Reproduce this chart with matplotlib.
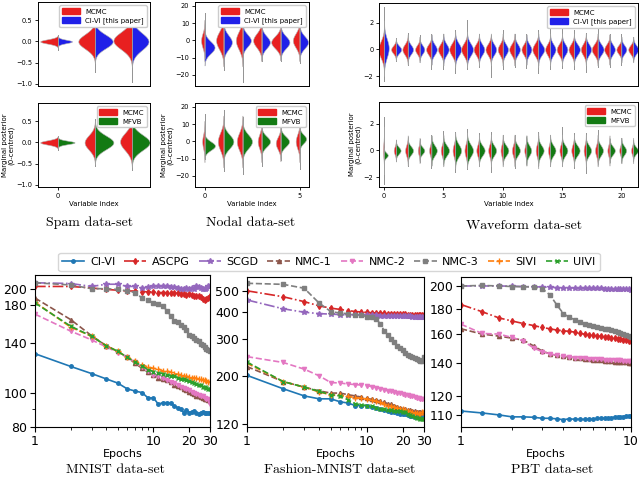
import numpy as np
import matplotlib
matplotlib.use("Agg")
import matplotlib.pyplot as plt
from matplotlib.patches import Patch
from matplotlib.ticker import NullFormatter, FixedLocator, FixedFormatter

# ---------------- violin data (centre, spread, half-width, whisker range) ----------------
spam_idx = [0, 1, 2]
spam_mcmc_c = [0.0, 0.0, 0.02]
spam_mcmc_s = [0.05, 0.17, 0.2]
spam_top_mcmc_w = [0.48, 0.45, 0.5]
spam_civi_c = [0.0, 0.0, 0.0]
spam_civi_s = [0.04, 0.16, 0.2]
spam_civi_w = [0.38, 0.48, 0.45]
spam_top_lo = [-0.2, -0.72, -0.95]
spam_top_hi = [0.15, 0.55, 0.85]
spam_bot_mcmc_w = [0.48, 0.28, 0.32]
spam_mfvb_c = [0.0, 0.0, 0.0]
spam_mfvb_s = [0.04, 0.16, 0.18]
spam_mfvb_w = [0.45, 0.5, 0.48]
spam_bot_lo = [-0.18, -0.55, -0.65]
spam_bot_hi = [0.15, 0.55, 0.45]

nodal_idx = [0, 1, 2, 3, 4, 5]
nodal_mcmc_c = [0, 0, 0, 0, -1, 0]
nodal_mcmc_s = [4, 5, 5, 4, 3.5, 4]
nodal_top_mcmc_w = [0.18, 0.39, 0.35, 0.44, 0.49, 0.35]
nodal_civi_c = [-4, -1, 0, -1, -1, -1]
nodal_civi_s = [3.5, 4, 3.5, 3.5, 3.5, 3.5]
nodal_civi_w = [0.53, 0.44, 0.44, 0.44, 0.47, 0.45]
nodal_top_lo = [-10, -17, -24, -12, -12, -13]
nodal_top_hi = [16, 17, 15, 13, 12, 13]
nodal_bot_mcmc_w = [0.12, 0.3, 0.3, 0.2, 0.25, 0.2]
nodal_mfvb_c = [-2.5, 0, 0, 0, 0, 1.5]
nodal_mfvb_s = [2.5, 4, 4, 3, 3, 2.5]
nodal_mfvb_w = [0.55, 0.52, 0.5, 0.45, 0.45, 0.35]
nodal_bot_lo = [-10, -17, -19, -14, -11, -16]
nodal_bot_hi = [16, 18, 14, 10, 10, 9]

wave_idx = list(range(22))
wave_mcmc_c = [0] * 22
wave_mcmc_s = [0.6, 0.28, 0.38, 0.32, 0.38, 0.4, 0.45, 0.45, 0.4, 0.4, 0.4,
               0.4, 0.38, 0.45, 0.4, 0.4, 0.4, 0.4, 0.4, 0.38, 0.32, 0.32]
wave_top_mcmc_w = [0.48, 0.4, 0.45, 0.38, 0.45, 0.45, 0.5, 0.5, 0.45, 0.45, 0.42,
                   0.45, 0.42, 0.5, 0.42, 0.45, 0.45, 0.42, 0.5, 0.45, 0.42, 0.42]
wave_civi_c = [0.1] + [0] * 21
wave_civi_s = [0.7, 0.28, 0.35, 0.32, 0.38, 0.4, 0.45, 0.45, 0.4, 0.4, 0.4,
               0.4, 0.38, 0.4, 0.4, 0.4, 0.4, 0.4, 0.4, 0.38, 0.32, 0.32]
wave_civi_w = [0.4, 0.45, 0.45, 0.4, 0.45, 0.45, 0.5, 0.5, 0.45, 0.45, 0.45,
               0.45, 0.42, 0.5, 0.45, 0.45, 0.5, 0.45, 0.5, 0.45, 0.42, 0.42]
wave_top_lo = [-2.4, -0.9, -1.2, -0.8, -1.5, -1.5, -1.8, -1.5, -1.3, -2.1, -1.5,
               -1.3, -1.4, -1.8, -1.5, -1.4, -1.5, -1.7, -1.3, -1.3, -1.2, -0.9]
wave_top_hi = [3.2, 0.9, 1.25, 1.1, 1.2, 1.2, 1.45, 2.25, 1.2, 1.1, 1.45,
               1.2, 1.2, 1.5, 1.6, 1.7, 1.45, 1.25, 1.6, 1.2, 1.2, 0.95]
wave_bot_mcmc_w = [0.08, 0.18, 0.22, 0.15, 0.2, 0.22, 0.22, 0.22, 0.22, 0.22, 0.18,
                   0.22, 0.18, 0.22, 0.18, 0.22, 0.22, 0.18, 0.22, 0.18, 0.18, 0.18]
wave_mfvb_c = [-0.35] + [0] * 21
wave_mfvb_s = [0.18, 0.26, 0.32, 0.26, 0.38, 0.38, 0.45, 0.45, 0.38, 0.38, 0.38,
               0.38, 0.38, 0.38, 0.38, 0.38, 0.38, 0.38, 0.38, 0.32, 0.32, 0.26]
wave_mfvb_w = [0.32, 0.4, 0.45, 0.4, 0.45, 0.48, 0.5, 0.5, 0.48, 0.45, 0.48,
               0.45, 0.4, 0.45, 0.45, 0.45, 0.48, 0.45, 0.45, 0.45, 0.4, 0.4]
wave_bot_lo = [-2.5, -0.77, -1.2, -0.9, -1.3, -1.0, -1.6, -1.4, -1.15, -1.6, -1.0,
               -1.3, -1.0, -1.2, -1.15, -1.15, -1.3, -1.7, -1.0, -0.9, -0.9, -0.77]
wave_bot_hi = [2.5, 0.77, 1.0, 0.9, 1.2, 1.45, 1.4, 1.65, 1.3, 1.4, 1.2,
               1.2, 1.0, 1.4, 1.2, 1.8, 1.35, 1.3, 1.55, 0.9, 0.95, 0.8]

# ---------------- convergence curves ----------------
methods = ["CI-VI", "ASCPG", "SCGD", "NMC-1", "NMC-2", "NMC-3", "SIVI", "UIVI"]
epochs = list(range(1, 31))

mnist = {
    "CI-VI": [130, 119.5, 114, 110, 107, 103, 101.5, 100.5, 97, 97, 93, 94, 94, 93.5, 92,
              91, 90, 88, 89.5, 88, 88.5, 89, 88, 87, 88, 88.5, 87.5, 88, 88, 88],
    "ASCPG": [203, 203, 201, 199, 198, 197, 197, 196, 196, 196, 195, 195, 195, 195, 195,
              194, 193, 193, 192, 193, 192, 191, 191, 190, 189, 187, 186, 187, 188, 190],
    "SCGD": [208, 207, 203, 206, 206, 203, 203, 201, 202, 203, 204, 203, 203, 202, 202,
             201, 200, 199, 201, 200, 201, 200, 203, 202, 201, 200, 199, 201, 203, 203],
    "NMC-1": [188, 163, 146.5, 137, 132, 127, 122, 118, 115, 113, 111, 110, 109, 107.5, 106,
              105, 104, 103, 102, 101, 100, 99.5, 98.5, 98, 97.5, 97, 96, 96, 95.5, 95],
    "NMC-2": [169, 151, 142.5, 136, 131, 127, 123, 119, 116, 113, 112, 110.5, 109, 108, 107,
              105.5, 104.5, 103.5, 103, 102, 101, 100, 99.5, 99, 98.5, 98, 97, 96.5, 96, 93],
    "NMC-3": [208, 205, 200, 200, 199, 197, 195, 188, 185, 182, 181, 178, 173, 167, 162,
              160, 157, 155, 152, 147, 146, 144, 142, 141, 139, 137.5, 136, 134.5, 133, 132.5],
    "SIVI": [183, 155, 146, 137, 132, 127, 124, 121, 119, 118, 117.5, 116, 116, 115, 114,
             113.5, 113, 112, 112, 111.5, 111, 111, 110.5, 110, 110, 109.5, 109, 108.5, 108, 108],
    "UIVI": [182, 156, 146, 137, 132, 127, 123, 120, 117, 115.5, 114.5, 114, 113, 112.5, 112,
             111, 110, 110, 109, 108.5, 108, 107, 106.5, 106, 105.5, 104.5, 104, 103.5, 103, 103],
}

fashion = {
    "CI-VI": [202, 175, 162, 157, 157, 152, 150, 146, 146, 146, 144, 142, 140, 139, 138,
              137, 136, 135, 134, 134, 133, 132, 131, 130, 129, 129, 129, 129, 129, 129],
    "ASCPG": [501, 470, 446, 426, 416, 410, 405, 401, 399, 397, 396, 395, 394, 393, 392,
              392, 391, 390, 390, 389, 389, 388, 388, 387, 387, 386, 386, 385, 385, 385],
    "SCGD": [454, 413, 398, 392, 390, 388, 387, 387, 386, 386, 385, 385, 384, 384, 384,
             383, 383, 382, 382, 382, 381, 381, 381, 380, 380, 380, 380, 379, 379, 379],
    "NMC-1": [222, 189, 178, 171, 167, 167, 164, 162, 160, 158, 156, 155, 153, 151, 149,
              148, 146, 144, 143, 141, 140, 139, 139, 138, 138, 137, 137, 136, 136, 136],
    "NMC-2": [247, 232, 216, 201, 187, 186, 184, 183, 182, 181, 179, 177, 175, 173, 171,
              170, 169, 168, 167, 166, 164, 163, 162, 161, 160, 159, 158, 157, 156, 156],
    "NMC-3": [543, 537, 515, 439, 401, 394, 392, 387, 385, 380, 378, 370, 350, 325, 310,
              298, 288, 278, 270, 265, 257, 252, 248, 245, 243, 240, 238, 236, 235, 245],
    "SIVI": [230, 189, 178, 169, 164, 163, 161, 159, 158, 157, 155, 153, 151, 148, 146,
             145, 144, 142, 141, 140, 139, 138, 137, 136, 135, 135, 134, 134, 137, 137],
    "UIVI": [233, 189, 178, 170, 164, 162, 155, 149, 147, 146, 145, 143, 141, 140, 139,
             139, 138, 138, 138, 137, 136, 134, 132, 131, 129, 128, 128, 127, 127, 127],
}

pbt_epochs = [1, 1.33, 1.67, 2, 2.33, 2.67, 3, 3.33, 3.67, 4, 4.33, 4.67, 5, 5.33,
              5.67, 6, 6.33, 6.67, 7, 7.33, 7.67, 8, 8.33, 8.67, 9, 9.33, 9.67, 10]
pbt = {
    "CI-VI": [112, 111, 110, 109, 109, 108.8, 108.3, 108.3, 108, 107.6, 108, 107.8, 107.8, 107.7,
              107.8, 107.8, 108.2, 108.3, 108.2, 108.5, 108.6, 108.8, 108.7, 109, 109.1, 109.4, 109.3, 109.3],
    "ASCPG": [183.5, 177.5, 172.5, 170, 168, 166.5, 165, 164, 163, 162.5, 162, 161.5, 160.5, 160,
              159.5, 159, 158.7, 158.3, 158, 157.6, 157.3, 157, 156.7, 156.3, 156, 155.6, 155.3, 155],
    "SCGD": [200, 200, 200, 199.8, 199.5, 199.3, 199, 198.8, 198.5, 198.4, 198.3, 198.2, 198.1, 198,
             198, 197.9, 197.8, 197.7, 197.6, 197.5, 197.4, 197.3, 197.2, 197.1, 197, 196.9, 196.8, 196.7],
    "NMC-1": [164, 160, 158.5, 157, 155.5, 151.5, 148, 146, 145, 144.3, 143.8, 143.4, 143, 142.7,
              142.4, 142.1, 141.9, 141.7, 141.5, 141.3, 141.1, 140.9, 140.7, 140.6, 140.4, 140.3, 140.1, 140],
    "NMC-2": [167.5, 160.5, 160, 157.5, 155, 150, 147.5, 146, 145, 144.5, 144, 143.5, 143.3, 143,
              142.8, 142.6, 142.4, 142.3, 142.2, 142, 141.9, 141.8, 141.7, 141.6, 141.5, 141.4, 141.3, 141.2],
    "NMC-3": [200, 200.5, 200, 199.5, 199.3, 199, 197.5, 192, 183, 176, 173, 171, 169.5, 168,
              167, 166, 165, 164.5, 164, 163.5, 163, 162, 161.5, 161, 160, 159.5, 158.5, 158],
}

styles = {
    "CI-VI": ("C0", "-", "o", 2.5),
    "ASCPG": ("C3", "-.", "d", 3),
    "SCGD": ("C4", "-.", "*", 4),
    "NMC-1": ("C5", "--", "^", 3),
    "NMC-2": ("C6", "--", "v", 3),
    "NMC-3": ("C7", "--", "s", 3),
    "SIVI": ("C1", "--", "+", 4),
    "UIVI": ("C2", "--", "x", 3.5),
}

RED = "#e82020"
BLUE = "#2020e8"
GREEN = "#137a13"

fig = plt.figure(figsize=(6.4, 4.78), dpi=100)
W, H = 640.0, 478.0


def add_ax(x0, y0, x1, y1):
    return fig.add_axes([x0 / W, 1 - y1 / H, (x1 - x0) / W, (y1 - y0) / H])


def half_violin(ax, x, c, s, w, side, color):
    y = np.linspace(c - 3 * s, c + 3 * s, 80)
    d = w * np.exp(-0.5 * ((y - c) / s) ** 2)
    if side < 0:
        ax.fill_betweenx(y, x - d, x, color=color, lw=0.4, edgecolor="0.7", zorder=2)
    else:
        ax.fill_betweenx(y, x, x + d, color=color, lw=0.4, edgecolor="0.7", zorder=2)


def violin_panel(ax, idx, ref, other, lo, hi, color2, label2, xlim, ylim, yticks, xticks):
    for i, x in enumerate(idx):
        ax.plot([x, x], [lo[i], hi[i]], color="0.55", lw=0.7, zorder=1)
        half_violin(ax, x, ref[0][i], ref[1][i], ref[2][i], -1, RED)
        half_violin(ax, x, other[0][i], other[1][i], other[2][i], 1, color2)
        ax.plot([x, x], [lo[i], hi[i]], color="0.6", lw=0.5, zorder=3)
    ax.set_xlim(*xlim)
    ax.set_ylim(*ylim)
    ax.set_yticks(yticks)
    ax.tick_params(labelsize=4.8, length=2.5, width=0.6, pad=1.5)
    for sp in ax.spines.values():
        sp.set_linewidth(0.7)
    if xticks is None:
        ax.set_xticks([])
    else:
        ax.set_xticks(xticks)
        ax.set_xlabel("Variable index", fontsize=5, labelpad=1.5)
        ax.set_ylabel("Marginal posterior\n(0-centred)", fontsize=5, labelpad=1.5, linespacing=1.0)
    ax.legend(handles=[Patch(color=RED, label="MCMC"), Patch(color=color2, label=label2)],
              loc="upper right", fontsize=5, handlelength=2.5, handleheight=0.9,
              borderpad=0.4, labelspacing=0.4, framealpha=1, edgecolor="0.8")


# --- Spam ---
ax = add_ax(38, 2, 150, 86)
violin_panel(ax, spam_idx, (spam_mcmc_c, spam_mcmc_s, spam_top_mcmc_w),
             (spam_civi_c, spam_civi_s, spam_civi_w), spam_top_lo, spam_top_hi,
             BLUE, "CI-VI [this paper]", (-0.54, 2.49), (-1.05, 0.93), [-1.0, -0.5, 0.0, 0.5], None)
ax = add_ax(38, 103, 150, 187)
violin_panel(ax, spam_idx, (spam_mcmc_c, spam_mcmc_s, spam_bot_mcmc_w),
             (spam_mfvb_c, spam_mfvb_s, spam_mfvb_w), spam_bot_lo, spam_bot_hi,
             GREEN, "MFVB", (-0.54, 2.49), (-1.05, 0.93), [-1.0, -0.5, 0.0, 0.5], [0])

# --- Nodal ---
ax = add_ax(195, 2, 309, 86)
violin_panel(ax, nodal_idx, (nodal_mcmc_c, nodal_mcmc_s, nodal_top_mcmc_w),
             (nodal_civi_c, nodal_civi_s, nodal_civi_w), nodal_top_lo, nodal_top_hi,
             BLUE, "CI-VI [this paper]", (-0.5, 5.5), (-26.4, 22.3), [-20, -10, 0, 10, 20], None)
ax = add_ax(195, 103, 309, 187)
violin_panel(ax, nodal_idx, (nodal_mcmc_c, nodal_mcmc_s, nodal_bot_mcmc_w),
             (nodal_mfvb_c, nodal_mfvb_s, nodal_mfvb_w), nodal_bot_lo, nodal_bot_hi,
             GREEN, "MFVB", (-0.5, 5.5), (-26.4, 22.3), [-20, -10, 0, 10, 20], [0, 5])

# --- Waveform ---
ax = add_ax(379, 3, 638, 86)
violin_panel(ax, wave_idx, (wave_mcmc_c, wave_mcmc_s, wave_top_mcmc_w),
             (wave_civi_c, wave_civi_s, wave_civi_w), wave_top_lo, wave_top_hi,
             BLUE, "CI-VI [this paper]", (-0.42, 21.4), (-2.75, 3.5), [-2, 0, 2], None)
ax = add_ax(379, 102, 638, 187)
violin_panel(ax, wave_idx, (wave_mcmc_c, wave_mcmc_s, wave_bot_mcmc_w),
             (wave_mfvb_c, wave_mfvb_s, wave_mfvb_w), wave_bot_lo, wave_bot_hi,
             GREEN, "MFVB", (-0.42, 21.4), (-2.75, 3.65), [-2, 0, 2], [0, 5, 10, 15, 20])

title_kw = dict(fontsize=10, fontfamily="cmr10", ha="center", va="center")
fig.text(90 / W, 1 - 223 / H, "Spam data-set", **title_kw)
fig.text(251 / W, 1 - 223 / H, "Nodal data-set", **title_kw)
fig.text(524 / W, 1 - 226 / H, "Waveform data-set", **title_kw)


# ---------------- line panels ----------------
def line_panel(ax, x, data, xmax, xticks, ylim, yticks):
    for m in methods:
        if m not in data:
            continue
        col, ls, mk, ms = styles[m]
        ax.plot(x, data[m], color=col, ls=ls, marker=mk, ms=ms, lw=1.2, label=m)
    ax.set_xscale("log")
    ax.set_yscale("log")
    ax.set_xlim(1, xmax)
    ax.set_ylim(*ylim)
    ax.xaxis.set_major_locator(FixedLocator(xticks))
    ax.xaxis.set_major_formatter(FixedFormatter([str(t) for t in xticks]))
    ax.xaxis.set_minor_formatter(NullFormatter())
    ax.yaxis.set_major_locator(FixedLocator(yticks))
    ax.yaxis.set_major_formatter(FixedFormatter([str(t) for t in yticks]))
    ax.yaxis.set_minor_formatter(NullFormatter())
    ax.tick_params(labelsize=9, pad=2)
    ax.set_xlabel("Epochs", fontsize=8, labelpad=1)


ax1 = add_ax(35, 275, 210, 427)
line_panel(ax1, epochs, mnist, 30, [1, 10, 20, 30], (80, 219), [80, 100, 140, 180, 200])
ax2 = add_ax(247, 277, 424, 427)
line_panel(ax2, epochs, fashion, 30, [1, 10, 20, 30], (116, 581), [120, 200, 300, 400, 500])
ax3 = add_ax(461, 277, 631, 427)
line_panel(ax3, pbt_epochs, pbt, 10, [1, 10], (104, 208.5), [110, 120, 140, 160, 180, 200])

handles, labels = ax1.get_legend_handles_labels()
fig.legend(handles, labels, loc="center", bbox_to_anchor=(329 / W, 1 - 262 / H), ncol=8,
           fontsize=8, handlelength=2.0, columnspacing=0.8, handletextpad=0.5,
           borderpad=0.35, frameon=True, edgecolor="0.8")

fig.text(115 / W, 1 - 470 / H, "MNIST data-set", **title_kw)
fig.text(340 / W, 1 - 470 / H, "Fashion-MNIST data-set", **title_kw)
fig.text(552 / W, 1 - 470 / H, "PBT data-set", **title_kw)

fig.savefig("out.png", dpi=100)
